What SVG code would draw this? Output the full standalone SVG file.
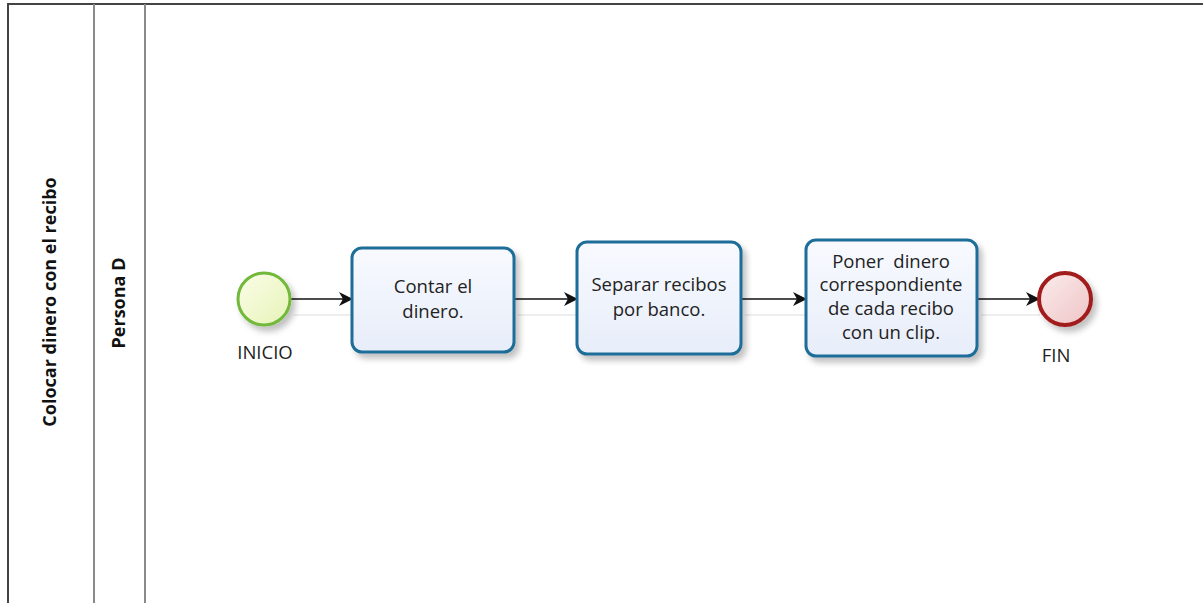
<svg xmlns="http://www.w3.org/2000/svg" width="1203" height="603" viewBox="0 0 1203 603">
<style>
.lane{stroke:#8a8a8a;stroke-width:2;fill:none}
.task{fill:url(#gTask);stroke:#1e6d98;stroke-width:3}
.t{font-family:"Open Sans","Liberation Sans",sans-serif;font-size:18.5px;fill:#222;text-anchor:middle}
.h{font-family:"Open Sans","Liberation Sans",sans-serif;font-size:18px;font-weight:bold;fill:#111;text-anchor:middle}
.conn{stroke:#111;stroke-width:1.6;fill:none;marker-end:url(#arr)}
</style>
<defs>
<linearGradient id="gTask" x1="0" y1="0" x2="0" y2="1"><stop offset="0" stop-color="#f8faff"/><stop offset="1" stop-color="#e7edf9"/></linearGradient>
<linearGradient id="gStart" x1="0" y1="0" x2="1" y2="1"><stop offset="0" stop-color="#fbfde8"/><stop offset="1" stop-color="#e6f3b8"/></linearGradient>
<linearGradient id="gEnd" x1="0" y1="0" x2="1" y2="1"><stop offset="0" stop-color="#fbecec"/><stop offset="1" stop-color="#efc4c6"/></linearGradient>
<filter id="sh" x="-20%" y="-20%" width="150%" height="150%"><feGaussianBlur in="SourceAlpha" stdDeviation="3"/><feOffset dx="4" dy="5"/><feComponentTransfer><feFuncA type="linear" slope="0.25"/></feComponentTransfer><feMerge><feMergeNode/><feMergeNode in="SourceGraphic"/></feMerge></filter>
<marker id="arr" markerWidth="14" markerHeight="14" refX="13" refY="7" orient="auto" markerUnits="userSpaceOnUse"><path d="M0,0 L14,7 L0,14 L4,7 Z" fill="#111"/></marker>
</defs>
<rect width="1203" height="603" fill="#fff"/>
<g id="pool">
<path d="M8,603 L8,4 L1203,4" stroke="#444" stroke-width="2" fill="none"/>
<line class="lane" x1="94" y1="4" x2="94" y2="603"/>
<line class="lane" x1="145" y1="4" x2="145" y2="603"/>
<text class="h" transform="translate(56,302) rotate(-90)">Colocar dinero con el recibo</text>
<text class="h" transform="translate(125,303) rotate(-90)">Persona D</text>
</g>
<g id="connectors">
<g stroke="#eee" stroke-width="2" fill="none"><line x1="294" y1="315" x2="352" y2="315"/><line x1="518" y1="315" x2="577" y2="315"/><line x1="745" y1="315" x2="806" y2="315"/><line x1="981" y1="315" x2="1040" y2="315"/></g>
<line class="conn" x1="290" y1="299" x2="352" y2="299"/>
<line class="conn" x1="514" y1="299" x2="577" y2="299"/>
<line class="conn" x1="741" y1="299" x2="806" y2="299"/>
<line class="conn" x1="977" y1="299" x2="1039" y2="299"/>
</g>
<g id="start">
<circle cx="264" cy="299" r="26" fill="url(#gStart)" stroke="#72b83a" stroke-width="3" filter="url(#sh)"/>
<text class="t" x="265" y="359">INICIO</text>
</g>
<g id="task1">
<rect class="task" x="352" y="248" width="162" height="104" rx="10" filter="url(#sh)"/>
<text class="t" x="433" y="293">Contar el</text>
<text class="t" x="433" y="318">dinero.</text>
</g>
<g id="task2">
<rect class="task" x="577" y="242" width="164" height="112" rx="10" filter="url(#sh)"/>
<text class="t" x="659" y="291">Separar recibos</text>
<text class="t" x="659" y="316">por banco.</text>
</g>
<g id="task3">
<rect class="task" x="806" y="240" width="171" height="116" rx="10" filter="url(#sh)"/>
<text class="t" x="891" y="268" xml:space="preserve">Poner  dinero</text>
<text class="t" x="891" y="291">correspondiente</text>
<text class="t" x="891" y="315">de cada recibo</text>
<text class="t" x="891" y="339">con un clip.</text>
</g>
<g id="end">
<circle cx="1065" cy="299" r="26" fill="url(#gEnd)" stroke="#a11a1a" stroke-width="4" filter="url(#sh)"/>
<text class="t" x="1056" y="362">FIN</text>
</g>
</svg>
